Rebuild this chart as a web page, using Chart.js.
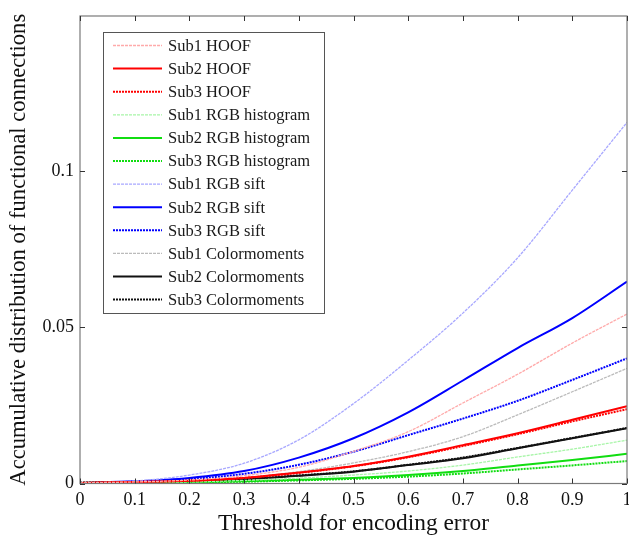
<!DOCTYPE html>
<html>
<head>
<meta charset="utf-8">
<script src="https://cdn.jsdelivr.net/npm/chart.js@4/dist/chart.umd.min.js"></script>
<style>
  html, body { margin: 0; padding: 0; background: #fff; }
  #wrap { width: 629px; height: 541px; }
</style>
</head>
<body>
<div id="wrap"><canvas id="lineChart"></canvas></div>
<script>
// threshold values on the x axis
const thresholds = [0, 0.1, 0.2, 0.3, 0.4, 0.5, 0.6, 0.7, 0.8, 0.9, 1];
const xTicks = [0, 0.1, 0.2, 0.3, 0.4, 0.5, 0.6, 0.7, 0.8, 0.9, 1];
const yTicks = [0, 0.05, 0.1];

const sub1Hoof  = [0.0002, 0.0005, 0.0011, 0.0025, 0.0052, 0.0103, 0.0166, 0.0258, 0.0350, 0.0450, 0.0543];
const sub2Hoof  = [0.0002, 0.0005, 0.0009, 0.0018, 0.0035, 0.0056, 0.0086, 0.0123, 0.0161, 0.0204, 0.0248];
const sub3Hoof  = [0.0002, 0.0005, 0.0009, 0.0018, 0.0034, 0.0055, 0.0084, 0.0120, 0.0158, 0.0199, 0.0238];
const sub1Hist  = [0.0002, 0.0004, 0.0005, 0.0010, 0.0017, 0.0027, 0.0040, 0.0059, 0.0085, 0.0110, 0.0139];
const sub2Hist  = [0.0002, 0.0003, 0.0004, 0.0007, 0.0012, 0.0018, 0.0027, 0.0040, 0.0058, 0.0075, 0.0095];
const sub3Hist  = [0.0002, 0.0003, 0.0004, 0.0006, 0.0010, 0.0015, 0.0022, 0.0032, 0.0045, 0.0058, 0.0072];
const sub1Sift  = [0.0002, 0.0008, 0.0027, 0.0065, 0.0140, 0.0256, 0.0395, 0.0546, 0.0723, 0.0940, 0.1157];
const sub2Sift  = [0.0002, 0.0007, 0.0018, 0.0040, 0.0083, 0.0145, 0.0228, 0.0330, 0.0434, 0.0530, 0.0647];
const sub3Sift  = [0.0002, 0.0006, 0.0014, 0.0031, 0.0060, 0.0102, 0.0155, 0.0208, 0.0265, 0.0332, 0.0401];
const sub1Color = [0.0002, 0.0005, 0.0008, 0.0018, 0.0038, 0.0066, 0.0102, 0.0150, 0.0220, 0.0294, 0.0369];
const sub2Color = [0.0002, 0.0004, 0.0007, 0.0014, 0.0025, 0.0038, 0.0059, 0.0081, 0.0113, 0.0145, 0.0177];
const sub3Color = [0.0002, 0.0004, 0.0007, 0.0014, 0.0026, 0.0039, 0.0060, 0.0083, 0.0114, 0.0146, 0.0178];

const SERIF = '"Liberation Serif", "Times New Roman", serif';

// Sub1 = dashed light, Sub2 = solid, Sub3 = dotted
function series(label, values, color, kind) {
    const style = {
        sub1: { width: 1.3, dash: [3, 1] },
        sub2: { width: 2, dash: [] },
        sub3: { width: 2, dash: [2, 1] }
    }[kind];
    return {
        label: label,
        data: values.map((v, i) => ({ x: thresholds[i], y: v })),
        borderColor: color,
        backgroundColor: color,
        borderWidth: style.width,
        borderDash: style.dash,
        pointRadius: 0,
        fill: false,
        cubicInterpolationMode: 'monotone'
    };
}

const datasets = [
    series('Sub1 HOOF', sub1Hoof, '#ffaaaa', 'sub1'),
    series('Sub2 HOOF', sub2Hoof, '#ff0000', 'sub2'),
    series('Sub3 HOOF', sub3Hoof, '#ff0000', 'sub3'),
    series('Sub1 RGB histogram', sub1Hist, '#a8f5a8', 'sub1'),
    series('Sub2 RGB histogram', sub2Hist, '#11dd11', 'sub2'),
    series('Sub3 RGB histogram', sub3Hist, '#11dd11', 'sub3'),
    series('Sub1 RGB sift', sub1Sift, '#a8a8ff', 'sub1'),
    series('Sub2 RGB sift', sub2Sift, '#0000ff', 'sub2'),
    series('Sub3 RGB sift', sub3Sift, '#0000ff', 'sub3'),
    series('Sub1 Colormoments', sub1Color, '#bbbbbb', 'sub1'),
    series('Sub2 Colormoments', sub2Color, '#111111', 'sub2'),
    series('Sub3 Colormoments', sub3Color, '#111111', 'sub3')
];

function fmt(v) {
    return String(+v.toFixed(2));
}

// box around the plot with inward tick marks, like MATLAB
const boxPlugin = {
    id: 'box',
    afterDatasetsDraw(chart) {
        const { ctx, chartArea: a, scales } = chart;
        ctx.save();
        ctx.strokeStyle = '#7a7a7a';
        ctx.lineWidth = 1.2;
        ctx.strokeRect(a.left, a.top, a.right - a.left, a.bottom - a.top);
        ctx.strokeStyle = '#333';
        ctx.lineWidth = 1;
        const len = 5;
        ctx.beginPath();
        scales.x.ticks.forEach(t => {
            const px = Math.round(scales.x.getPixelForValue(t.value)) + 0.5;
            ctx.moveTo(px, a.bottom); ctx.lineTo(px, a.bottom - len);
            ctx.moveTo(px, a.top); ctx.lineTo(px, a.top + len);
        });
        scales.y.ticks.forEach(t => {
            const py = Math.round(scales.y.getPixelForValue(t.value)) + 0.5;
            ctx.moveTo(a.left, py); ctx.lineTo(a.left + len, py);
            ctx.moveTo(a.right, py); ctx.lineTo(a.right - len, py);
        });
        ctx.stroke();
        ctx.restore();
    }
};

// legend box inside the plot, top left
const legendPlugin = {
    id: 'insideLegend',
    afterDraw(chart) {
        const ctx = chart.ctx;
        const box = { x: 103, y: 32, w: 221, h: 281 };
        ctx.save();
        ctx.fillStyle = '#fff';
        ctx.fillRect(box.x, box.y, box.w, box.h);
        ctx.strokeStyle = '#555';
        ctx.lineWidth = 1;
        ctx.strokeRect(box.x + 0.5, box.y + 0.5, box.w, box.h);
        ctx.font = '16.5px ' + SERIF;
        ctx.textBaseline = 'middle';
        chart.data.datasets.forEach((ds, i) => {
            const y = 45.5 + i * 23.1;
            ctx.strokeStyle = ds.borderColor;
            ctx.lineWidth = ds.borderWidth;
            ctx.setLineDash(ds.borderDash);
            ctx.beginPath();
            ctx.moveTo(113, y);
            ctx.lineTo(162, y);
            ctx.stroke();
            ctx.setLineDash([]);
            ctx.fillStyle = '#1a1a1a';
            ctx.fillText(ds.label, 168, y + 1);
        });
        ctx.restore();
    }
};

const ctx = document.getElementById('lineChart').getContext('2d');
new Chart(ctx, {
    type: 'line',
    data: { datasets: datasets },
    options: {
        responsive: true,
        maintainAspectRatio: false,
        animation: false,
        layout: { padding: { top: 16, right: 2, left: 0, bottom: 0 } },
        plugins: {
            legend: { display: false },
            tooltip: { enabled: false }
        },
        scales: {
            x: {
                type: 'linear',
                min: 0,
                max: 1,
                afterFit(scale) {
                    scale.height = 57.5;
                    scale.paddingLeft = 0;
                    scale.paddingRight = 0;
                },
                afterBuildTicks(scale) { scale.ticks = xTicks.map(v => ({ value: v })); },
                grid: { display: false, drawTicks: false },
                border: { display: false },
                ticks: {
                    color: '#111',
                    padding: 6,
                    maxRotation: 0,
                    font: { family: SERIF, size: 18 },
                    callback: v => fmt(v)
                },
                title: {
                    display: true,
                    text: 'Threshold for encoding error',
                    color: '#111',
                    padding: { top: 0, bottom: 3 },
                    font: { family: SERIF, size: 23.4 }
                }
            },
            y: {
                type: 'linear',
                min: 0,
                max: 0.1498,
                afterFit(scale) {
                    scale.width = 80;
                    scale.paddingTop = 0;
                    scale.paddingBottom = 0;
                },
                afterBuildTicks(scale) { scale.ticks = yTicks.map(v => ({ value: v })); },
                grid: { display: false, drawTicks: false },
                border: { display: false },
                ticks: {
                    color: '#111',
                    padding: 6,
                    font: { family: SERIF, size: 18 },
                    callback: v => fmt(v)
                },
                title: {
                    display: true,
                    text: 'Accumulative distribution of functional connections',
                    color: '#111',
                    padding: { top: 6, bottom: 0 },
                    font: { family: SERIF, size: 22.6 }
                }
            }
        }
    },
    plugins: [boxPlugin, legendPlugin]
});
</script>
</body>
</html>
